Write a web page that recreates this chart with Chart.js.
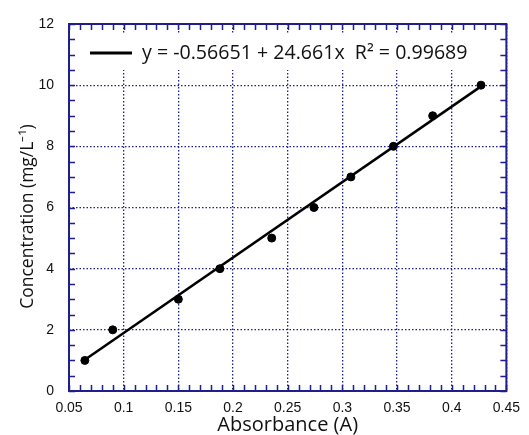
<!DOCTYPE html>
<html lang="en">
<head>
  <meta charset="UTF-8" />
  <title>Calibration curve</title>
  <script src="https://cdn.jsdelivr.net/npm/chart.js"></script>
  <style>
    html, body { margin: 0; padding: 0; background: #fff; }
    #wrap { width: 529px; height: 435px; }
  </style>
</head>
<body>
  <div id="wrap"><canvas id="calChart" width="529" height="435"></canvas></div>
  <script>
    // measured points
    const absorbance = [0.0645, 0.090, 0.150, 0.188, 0.2354, 0.274, 0.3078, 0.3467, 0.3826, 0.4268];
    const concentration = [1, 2, 3, 4, 5, 6, 7, 8, 9, 10];

    // fitted line end points
    const fitX = [0.0645, 0.4268];
    const fitY = [1.02, 9.96];
    const fitLabel = 'y = -0.56651 + 24.661x  R\u00B2 = 0.99689';

    const xTicks = [0.05, 0.1, 0.15, 0.2, 0.25, 0.3, 0.35, 0.4, 0.45];
    const yTicks = [0, 2, 4, 6, 8, 10, 12];

    const navy = '#1e1e8c';

    // frame, inside ticks and legend box
    const framePlugin = {
      id: 'frame',
      beforeDatasetsDraw(chart) {
        const ctx = chart.ctx;
        const a = chart.chartArea;
        ctx.save();
        ctx.fillStyle = '#fff';
        ctx.fillRect(a.left + 3, 33, 410, 37);
        ctx.strokeStyle = '#000';
        ctx.lineWidth = 3;
        ctx.beginPath();
        ctx.moveTo(90, 53);
        ctx.lineTo(132, 53);
        ctx.stroke();
        ctx.fillStyle = '#111';
        ctx.font = '19.6px "Open Sans"';
        ctx.textBaseline = 'middle';
        ctx.fillText(chart.data.datasets[1].label, 142, 53);
        ctx.restore();
      },
      afterDraw(chart) {
        const ctx = chart.ctx;
        const a = chart.chartArea;
        const xs = chart.scales.x, ys = chart.scales.y;
        ctx.save();
        ctx.strokeStyle = navy;
        ctx.lineWidth = 1.5;
        ctx.beginPath();
        for (let i = 0; i <= 40; i++) {
          const px = Math.round(xs.getPixelForValue(0.05 + i * 0.01)) + 0.5;
          ctx.moveTo(px, a.bottom); ctx.lineTo(px, a.bottom - 6);
          ctx.moveTo(px, a.top); ctx.lineTo(px, a.top + 6);
        }
        for (let i = 0; i <= 24; i++) {
          const py = Math.round(ys.getPixelForValue(i * 0.5)) + 0.5;
          ctx.moveTo(a.left, py); ctx.lineTo(a.left + 6, py);
          ctx.moveTo(a.right, py); ctx.lineTo(a.right - 6, py);
        }
        ctx.stroke();
        ctx.lineWidth = 2;
        ctx.strokeRect(a.left, a.top, a.right - a.left, a.bottom - a.top);
        ctx.restore();
      }
    };

    new Chart(document.getElementById('calChart'), {
      type: 'scatter',
      data: {
        datasets: [{
          label: 'data',
          data: absorbance.map((x, i) => ({ x, y: concentration[i] })),
          backgroundColor: '#000',
          borderColor: '#000',
          pointRadius: 4
        }, {
          type: 'line',
          label: fitLabel,
          data: fitX.map((x, i) => ({ x, y: fitY[i] })),
          borderColor: '#000',
          borderWidth: 2.5,
          pointRadius: 0,
          fill: false
        }]
      },
      options: {
        responsive: false,
        animation: false,
        layout: { padding: { top: 24, right: 14, left: 0, bottom: 0 } },
        plugins: { legend: { display: false }, tooltip: { enabled: false } },
        scales: {
          x: {
            type: 'linear',
            min: 0.05, max: 0.45,
            afterBuildTicks: s => { s.ticks = xTicks.map(v => ({ value: v })); },
            afterFit: s => { s.height = 44; },
            ticks: {
              padding: 9,
              color: '#111',
              font: { family: '"Liberation Sans", Arial', size: 14 },
              callback: v => String(+v.toFixed(2))
            },
            grid: { color: navy, lineWidth: 1.3, drawTicks: false },
            border: { display: false, dash: [1.5, 2] },
            title: {
              display: true,
              text: 'Absorbance (A)',
              color: '#111',
              font: { family: '"Open Sans"', size: 20, lineHeight: 1 },
              padding: 0
            }
          },
          y: {
            min: 0, max: 12,
            afterBuildTicks: s => { s.ticks = yTicks.map(v => ({ value: v })); },
            afterFit: s => { s.width = 69; },
            ticks: {
              padding: 15,
              color: '#111',
              font: { family: '"Liberation Sans", Arial', size: 14 }
            },
            grid: { color: navy, lineWidth: 1.3, drawTicks: false },
            border: { display: false, dash: [1.5, 2] },
            title: {
              display: true,
              text: 'Concentration (mg/L\u207B\u00B9)    ',
              color: '#111',
              font: { family: '"Open Sans"', size: 17.5, lineHeight: 1.2 },
              padding: { top: 18, bottom: 0 }
            }
          }
        }
      },
      plugins: [framePlugin]
    });
  </script>
</body>
</html>
